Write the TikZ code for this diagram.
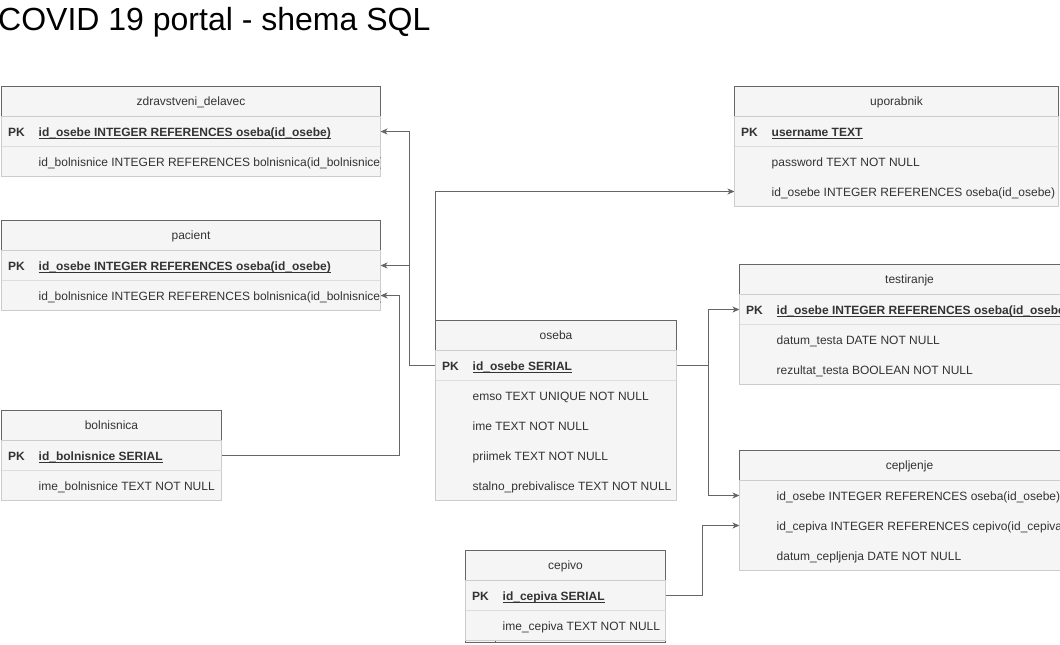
\documentclass[tikz,border=0pt]{standalone}
\usepackage{fontspec}
\setmainfont{Liberation Sans}
\usetikzlibrary{arrows.meta,calc}
\definecolor{txt}{HTML}{333333}
\definecolor{dk}{HTML}{666666}
\definecolor{lt}{HTML}{CCCCCC}
\definecolor{sepc}{HTML}{DDDDDD}
\definecolor{bgf}{HTML}{F5F5F5}
\pgfdeclarelayer{bg}
\pgfsetlayers{bg,main}
\tikzset{
  hdr/.style={draw=dk, fill=bgf, line width=1pt, minimum height=30pt, inner sep=0pt, outer sep=0pt,
    text=txt, font=\fontsize{12pt}{14pt}\selectfont, text height=8.6pt, text depth=0pt},
  body/.style={draw=lt, fill=bgf, line width=1pt},
  container/.style={draw=dk, fill=bgf, line width=1pt},
  rowbox/.style={minimum height=30pt, inner sep=0pt, outer sep=0pt},
  fld/.style={anchor=west, inner sep=0pt, text=txt, font=\fontsize{12pt}{14pt}\selectfont,
    text height=8.6pt, text depth=0pt},
  fldb/.style={fld, font=\fontsize{12pt}{14pt}\selectfont\bfseries},
  pklab/.style={inner sep=0pt, text=txt, font=\fontsize{12pt}{14pt}\selectfont\bfseries,
    text height=8.6pt, text depth=0pt},
  ul/.style={draw=txt, line width=0.9pt},
  sepline/.style={draw=sepc, line width=1pt},
  plainline/.style={draw=dk, line width=1pt},
  fk/.style={draw=dk, line width=1pt, -{Stealth[length=7pt,width=6pt,inset=2pt]}},
  titletext/.style={anchor=base west, inner sep=0pt, text=black, font=\fontsize{32pt}{38pt}\selectfont}
}
% name, x, y, width, rows, title
\newcommand\tablebox[6]{%
  \node[hdr, minimum width=#4pt, anchor=north west] (#1) at (#2,#3) {#6};
  \path[body] (#2,#3+30) rectangle (#2+#4,#3+30+30*#5);
  \foreach \i in {1,...,#5} {\node[rowbox, minimum width=#4pt, anchor=north west] (#1-\i) at (#2,#3+30*\i) {};}
}
\newcommand\pkfield[2]{%
  \node[pklab] (#1-k) at ([xshift=15pt,yshift=-1pt]#1.west) {PK};
  \node[fldb] (#1-t) at ([xshift=37pt,yshift=-1pt]#1.west) {#2};
  \draw[ul] ([yshift=-1.5pt]#1-t.base west) -- ([yshift=-1.5pt]#1-t.base east);
  \draw[sepline] (#1.south west) -- (#1.south east);
}
\newcommand\plainfield[2]{%
  \node[fld] (#1-t) at ([xshift=37pt,yshift=-1pt]#1.west) {#2};
}
\begin{document}
\begin{tikzpicture}[x=1pt,y=-1pt]
\useasboundingbox (0,0) rectangle (1060,645);
\clip (0,0) rectangle (1060,645);
\node[titletext] (title) at (-2,30) {COVID 19 portal - shema SQL};
\begin{scope}[shift={(0.5,0.5)}]
% zdravstveni_delavec
\tablebox{zd}{1}{86}{379}{2}{zdravstveni\_delavec}
\begin{scope}
\clip (1,86) rectangle (380,176);
\pkfield{zd-1}{id\_osebe INTEGER REFERENCES oseba(id\_osebe)}
\plainfield{zd-2}{id\_bolnisnice INTEGER REFERENCES bolnisnica(id\_bolnisnice)}
\end{scope}
% pacient
\tablebox{pac}{1}{220}{379}{2}{pacient}
\begin{scope}
\clip (1,220) rectangle (380,310);
\pkfield{pac-1}{id\_osebe INTEGER REFERENCES oseba(id\_osebe)}
\plainfield{pac-2}{id\_bolnisnice INTEGER REFERENCES bolnisnica(id\_bolnisnice)}
\end{scope}
% bolnisnica
\tablebox{bol}{1}{410}{220}{2}{bolnisnica}
\begin{scope}
\clip (1,410) rectangle (221,500);
\pkfield{bol-1}{id\_bolnisnice SERIAL}
\plainfield{bol-2}{ime\_bolnisnice TEXT NOT NULL}
\end{scope}
% oseba
\tablebox{os}{435}{320}{241}{5}{oseba}
\begin{scope}
\clip (435,320) rectangle (676,500);
\pkfield{os-1}{id\_osebe SERIAL}
\plainfield{os-2}{emso TEXT UNIQUE NOT NULL}
\plainfield{os-3}{ime TEXT NOT NULL}
\plainfield{os-4}{priimek TEXT NOT NULL}
\plainfield{os-5}{stalno\_prebivalisce TEXT NOT NULL}
\end{scope}
% uporabnik
\tablebox{up}{734}{86}{324}{3}{uporabnik}
\begin{scope}
\clip (734,86) rectangle (1058,206);
\pkfield{up-1}{username TEXT}
\plainfield{up-2}{password TEXT NOT NULL}
\plainfield{up-3}{id\_osebe INTEGER REFERENCES oseba(id\_osebe)}
\end{scope}
% testiranje
\tablebox{te}{739}{264}{340}{3}{testiranje}
\begin{scope}
\clip (739,264) rectangle (1079,384);
\pkfield{te-1}{id\_osebe INTEGER REFERENCES oseba(id\_osebe)}
\plainfield{te-2}{datum\_testa DATE NOT NULL}
\plainfield{te-3}{rezultat\_testa BOOLEAN NOT NULL}
\end{scope}
% cepljenje
\tablebox{ce}{739}{450}{340}{3}{cepljenje}
\begin{scope}
\clip (739,450) rectangle (1079,570);
\plainfield{ce-1}{id\_osebe INTEGER REFERENCES oseba(id\_osebe)}
\plainfield{ce-2}{id\_cepiva INTEGER REFERENCES cepivo(id\_cepiva)}
\plainfield{ce-3}{datum\_cepljenja DATE NOT NULL}
\end{scope}
% cepivo (container slightly taller than its rows)
\path[container] (465,550) rectangle (665,642);
\draw[plainline] (495,580) -- (495,642);
\tablebox{cv}{465}{550}{200}{2}{cepivo}
\begin{scope}
\clip (465,550) rectangle (665,640);
\pkfield{cv-1}{id\_cepiva SERIAL}
\plainfield{cv-2}{ime\_cepiva TEXT NOT NULL}
\end{scope}
% connectors
\begin{pgfonlayer}{bg}
\coordinate (ja) at (409,365);
\coordinate (jb) at (399,455);
\coordinate (jc) at (708,365);
\coordinate (jd) at (702,595);
\draw[fk] (os-1.west) -- (ja) |- (zd-1.east);
\draw[fk] (ja) |- (pac-1.east);
\draw[fk] (bol-1.east) -- (jb) |- (pac-2.east);
\draw[fk] (os-1.west) |- (up-3.west);
\draw[fk] (os-1.east) -- (jc) |- (te-1.west);
\draw[fk] (jc) |- (ce-1.west);
\draw[fk] (cv-1.east) -- (jd) |- (ce-2.west);
\end{pgfonlayer}
\end{scope}
\end{tikzpicture}
\end{document}
